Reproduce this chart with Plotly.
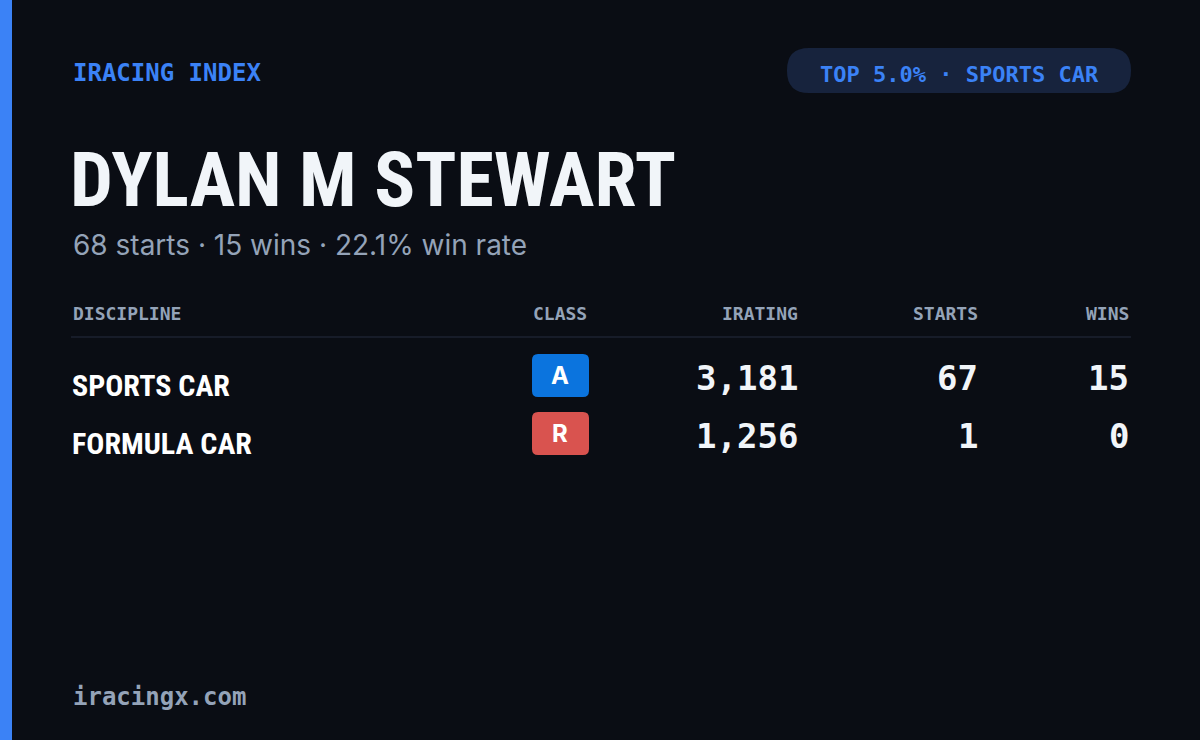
import plotly.graph_objects as go

disciplines = ["SPORTS CAR", "FORMULA CAR"]
classes = ["A", "R"]
iratings = [3181, 1256]
starts = [67, 1]
wins = [15, 0]
columns = ["DISCIPLINE", "CLASS", "IRATING", "STARTS", "WINS"]
class_colors = {"A": "#0b74de", "R": "#d9534f"}

driver = "DYLAN M STEWART"
total_starts, total_wins = 68, 15
badge = "TOP 5.0% · SPORTS CAR"

BG = "#0a0d14"
MUTED = "#94a3b8"
BLUE = "#3b82f6"
MONO = "DejaVu Sans Mono"
NARROW = "Liberation Sans Narrow, Roboto Condensed, Roboto"


def rrect(x0, y0, x1, y1, r):
    return (f"M{x0+r},{y0} L{x1-r},{y0} Q{x1},{y0} {x1},{y0+r} L{x1},{y1-r} "
            f"Q{x1},{y1} {x1-r},{y1} L{x0+r},{y1} Q{x0},{y1} {x0},{y1-r} "
            f"L{x0},{y0+r} Q{x0},{y0} {x0+r},{y0} Z")


fig = go.Figure()
shapes = [
    dict(type="rect", x0=0, x1=12, y0=0, y1=740, fillcolor=BLUE, line_width=0),
    dict(type="path", path=rrect(787, 48, 1131, 93, 22), fillcolor="#17233d", line_width=0),
    dict(type="line", x0=71, x1=1131, y0=337, y1=337, line=dict(color="#1c2230", width=1.5)),
]
ann = []


def txt(x, y, s, size, color, font, anchor="left", bold=False):
    ann.append(dict(x=x, y=y, text=f"<b>{s}</b>" if bold else s, showarrow=False,
                    xanchor=anchor, yanchor="middle",
                    font=dict(size=size, color=color, family=font)))


txt(71, 73, "IRACING INDEX", 24, BLUE, MONO, bold=True)
txt(959, 74, badge, 22, BLUE, MONO, "center", bold=True)
txt(68, 180, driver, 76, "#f1f5f9", NARROW, bold=True)
rate = total_wins / total_starts * 100
txt(71, 245, f"{total_starts} starts · {total_wins} wins · {rate:.1f}% win rate", 28, MUTED, "Inter")

col_x = [71, 560, 800, 980, 1131]
col_anchor = ["left", "center", "right", "right", "right"]
for c, x, a in zip(columns, col_x, col_anchor):
    txt(x, 313, c, 18, MUTED, MONO, a, bold=True)

row_y = [378, 436]
for i, y in enumerate(row_y):
    txt(70, y + 7, disciplines[i], 30, "#ffffff", NARROW, bold=True)
    shapes.append(dict(type="path", path=rrect(532, y - 24, 589, y + 19, 6),
                       fillcolor=class_colors[classes[i]], line_width=0))
    txt(560, y - 3, classes[i], 24, "#ffffff", "Inter", "center", bold=True)
    txt(800, y, f"{iratings[i]:,}", 34, "#f1f5f9", MONO, "right", bold=True)
    txt(980, y, str(starts[i]), 34, "#f1f5f9", MONO, "right", bold=True)
    txt(1131, y, str(wins[i]), 34, "#f1f5f9", MONO, "right", bold=True)

txt(71, 697, "iracingx.com", 24, MUTED, MONO, bold=True)

fig.update_layout(
    width=1200, height=740, margin=dict(l=0, r=0, t=0, b=0),
    paper_bgcolor=BG, plot_bgcolor=BG,
    xaxis=dict(range=[0, 1200], visible=False, fixedrange=True),
    yaxis=dict(range=[740, 0], visible=False, fixedrange=True),
    shapes=shapes, annotations=ann, showlegend=False,
)
fig.write_html("out.html", config={"displayModeBar": False},
               post_script="document.body.style.margin='0';document.body.style.background='#0a0d14';")
